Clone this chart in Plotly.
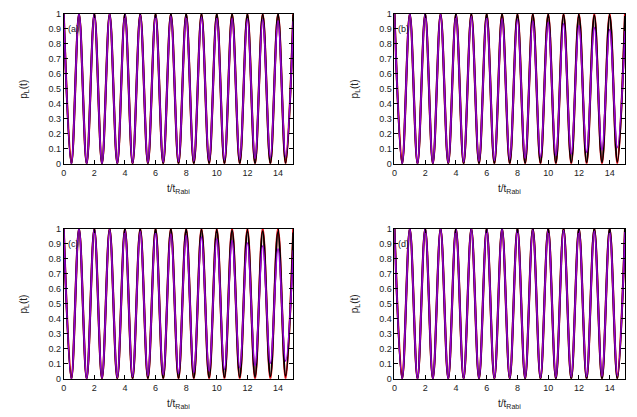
import plotly.graph_objects as go

# Extremum times: peaks at t = 0,1,...,15 ; troughs at t = 0.5,...,14.5
peak_t = [float(i) for i in range(16)]
trough_t = [i + 0.5 for i in range(15)]

# ---- panel (a) ----
a_red_peaks = [1.0] * 16
a_red_troughs = [0.0] * 15
a_black_peaks = [1.0, 1.0, 1.0, 1.0, 1.0, 0.999, 0.999, 0.999, 0.998, 0.998, 0.998, 0.997, 0.997, 0.996, 0.996, 0.995]
a_black_troughs = [0.0, 0.0, 0.0, 0.001, 0.001, 0.001, 0.002, 0.002, 0.002, 0.003, 0.003, 0.003, 0.004, 0.004, 0.005]
a_purple_peaks = [1.0, 1.0, 0.998, 0.996, 0.994, 0.99, 0.987, 0.984, 0.98, 0.976, 0.972, 0.968, 0.964, 0.96, 0.953, 0.95]
a_purple_troughs = [0.0, 0.001, 0.002, 0.004, 0.006, 0.009, 0.012, 0.015, 0.019, 0.023, 0.027, 0.031, 0.036, 0.042, 0.048]

# ---- panel (b) ----
b_red_peaks = [1.0] * 16
b_red_troughs = [0.0] * 15
b_black_peaks = [1.0, 1.0, 1.0, 0.999, 0.999, 0.998, 0.998, 0.997, 0.996, 0.995, 0.994, 0.993, 0.991, 0.989, 0.987, 0.985]
b_black_troughs = [0.0, 0.0, 0.001, 0.001, 0.002, 0.002, 0.003, 0.004, 0.005, 0.006, 0.007, 0.008, 0.01, 0.011, 0.013]
b_purple_peaks = [1.0, 0.999, 0.997, 0.993, 0.988, 0.982, 0.975, 0.967, 0.96, 0.952, 0.943, 0.933, 0.922, 0.908, 0.895, 0.885]
b_purple_troughs = [0.0, 0.002, 0.004, 0.008, 0.013, 0.018, 0.024, 0.031, 0.038, 0.046, 0.055, 0.065, 0.077, 0.092, 0.108]

# ---- panel (c) ----
c_red_peaks = [1.0] * 16
c_red_troughs = [0.0] * 15
c_black_peaks = [1.0, 1.0, 0.999, 0.999, 0.998, 0.997, 0.996, 0.995, 0.993, 0.991, 0.989, 0.987, 0.984, 0.981, 0.977, 0.974]
c_black_troughs = [0.0, 0.0, 0.001, 0.001, 0.002, 0.003, 0.004, 0.005, 0.006, 0.008, 0.01, 0.012, 0.014, 0.017, 0.02]
c_purple_peaks = [1.0, 0.999, 0.996, 0.992, 0.986, 0.979, 0.971, 0.963, 0.953, 0.943, 0.932, 0.92, 0.905, 0.885, 0.865, 0.855]
c_purple_troughs = [0.0, 0.002, 0.005, 0.009, 0.014, 0.02, 0.027, 0.035, 0.043, 0.052, 0.062, 0.074, 0.088, 0.104, 0.118]

# ---- panel (d) ----
d_red_peaks = [1.0] * 16
d_red_troughs = [0.0] * 15
d_black_peaks = [1.0] * 16
d_black_troughs = [0.0] * 15
d_purple_peaks = [1.0, 1.0, 0.999, 0.998, 0.997, 0.996, 0.995, 0.994, 0.992, 0.99, 0.988, 0.986, 0.984, 0.981, 0.978, 0.976]
d_purple_troughs = [0.0, 0.0, 0.001, 0.002, 0.003, 0.004, 0.005, 0.006, 0.008, 0.009, 0.011, 0.013, 0.015, 0.018, 0.021]

panel_labels = ["(a)", "(b)", "(c)", "(d)"]
x_ticks = [0, 2, 4, 6, 8, 10, 12, 14]
y_ticks = [0, 0.1, 0.2, 0.3, 0.4, 0.5, 0.6, 0.7, 0.8, 0.9, 1]
y_ticklabels = ["0", "0.1", "0.2", "0.3", "0.4", "0.5", "0.6", "0.7", "0.8", "0.9", "1"]

panels = [
    (a_red_peaks, a_red_troughs, a_black_peaks, a_black_troughs, a_purple_peaks, a_purple_troughs),
    (b_red_peaks, b_red_troughs, b_black_peaks, b_black_troughs, b_purple_peaks, b_purple_troughs),
    (c_red_peaks, c_red_troughs, c_black_peaks, c_black_troughs, c_purple_peaks, c_purple_troughs),
    (d_red_peaks, d_red_troughs, d_black_peaks, d_black_troughs, d_purple_peaks, d_purple_troughs),
]


def interleave(peaks, troughs):
    ts, ps = [], []
    for i in range(len(troughs)):
        ts += [peak_t[i], trough_t[i]]
        ps += [peaks[i], troughs[i]]
    ts.append(peak_t[len(troughs)])
    ps.append(peaks[len(troughs)])
    return ts, ps


W, H = 637, 417
# pixel boxes for the four plot areas (left, right, top, bottom)
boxes = [(61, 291.7, 9, 162.7), (393.3, 625, 9, 162.7),
         (61, 291.7, 229, 383), (393.3, 625, 229, 383)]

FONT = "Liberation Sans, Arial, sans-serif"
fig = go.Figure()
styles = [("#e8000b", 2.2), ("#000000", 2.0), ("#9400d3", 1.6)]

for k, series in enumerate(panels):
    xa = "x" if k == 0 else f"x{k+1}"
    ya = "y" if k == 0 else f"y{k+1}"
    for j in range(3):
        ts, ps = interleave(series[2 * j], series[2 * j + 1])
        col, w = styles[j]
        fig.add_trace(go.Scatter(x=ts, y=ps, mode="lines", xaxis=xa, yaxis=ya,
                                 line=dict(color=col, width=w, shape="spline", smoothing=1.0),
                                 showlegend=False, hoverinfo="skip"))
    l, r, t, b = boxes[k]
    axcommon = dict(showline=True, linecolor="black", linewidth=1, mirror="ticks",
                    ticks="inside", ticklen=4, tickcolor="black", showgrid=False,
                    zeroline=False, tickfont=dict(family=FONT, size=9, color="#222"))
    xkey = "xaxis" if k == 0 else f"xaxis{k+1}"
    ykey = "yaxis" if k == 0 else f"yaxis{k+1}"
    fig.update_layout({
        xkey: dict(domain=[l / W, r / W], range=[0, 15], tickvals=x_ticks,
                   anchor=ya, **axcommon),
        ykey: dict(domain=[1 - b / H, 1 - t / H], range=[0, 1], tickvals=y_ticks,
                   ticktext=y_ticklabels, anchor=xa, **axcommon),
    })
    # panel label
    fig.add_annotation(xref=f"{xa} domain", yref=ya, x=0.008, y=0.9, text=panel_labels[k],
                       showarrow=False, xanchor="left", yanchor="middle",
                       font=dict(family=FONT, size=9, color="#222"))
    # axis titles
    fig.add_annotation(xref="paper", yref="paper", x=(l - 40) / W, y=1 - (t + b) / 2 / H,
                       text="p<sub>L</sub>(t)", textangle=-90, showarrow=False,
                       xanchor="center", yanchor="middle",
                       font=dict(family=FONT, size=10, color="#222"))
    fig.add_annotation(xref="paper", yref="paper", x=(l + r) / 2 / W, y=1 - (b + 26) / H,
                       text="t/t<sub>Rabi</sub>", showarrow=False,
                       xanchor="center", yanchor="middle",
                       font=dict(family=FONT, size=10, color="#222"))

fig.update_layout(width=W, height=H, margin=dict(l=0, r=0, t=0, b=0),
                  paper_bgcolor="white", plot_bgcolor="white")
fig.write_html("out.html", config={"displayModeBar": False})

# remove the default page margin so the figure sits at the window origin
with open("out.html", "r", encoding="utf-8") as f:
    html = f.read()
html = html.replace("<head>", "<head><style>html,body{margin:0;padding:0;overflow:hidden;}</style>", 1)
with open("out.html", "w", encoding="utf-8") as f:
    f.write(html)
